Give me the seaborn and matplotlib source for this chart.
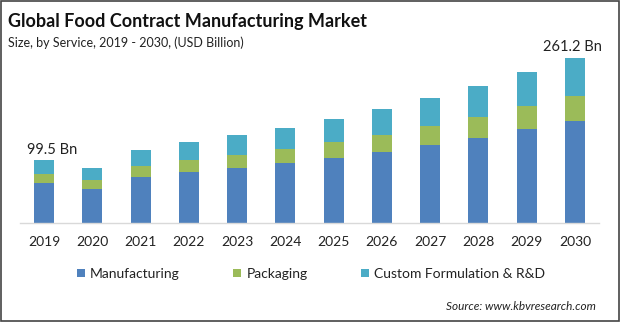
import matplotlib
matplotlib.use("Agg")
import matplotlib.pyplot as plt
import seaborn as sns
import numpy as np
import pandas as pd
from matplotlib.lines import Line2D
from matplotlib.patches import Rectangle

years = ["2019", "2020", "2021", "2022", "2023", "2024", "2025", "2026", "2027", "2028", "2029", "2030"]
manufacturing = [62.8, 53.2, 72.3, 80.4, 86.8, 94.8, 102.7, 112.3, 123.5, 134.6, 149.0, 161.6]
packaging = [14.4, 14.4, 17.6, 19.2, 21.3, 22.4, 25.6, 27.2, 30.3, 33.5, 36.7, 39.5]
custom = [22.3, 19.2, 25.6, 28.8, 32.0, 33.5, 36.7, 41.5, 44.7, 49.5, 54.3, 60.1]
series_names = ["Manufacturing", "Packaging", "Custom Formulation & R&D"]
colors = ["#4f81bd", "#9bbb59", "#4bacc6"]

sns.set_theme(style="white")
plt.rcParams['font.family'] = ['Lato', 'DejaVu Sans']

fig = plt.figure(figsize=(6.2, 3.22), dpi=100)
ax = fig.add_axes([20/620, 1 - 223/322, 579/620, 183/322])

m = np.array(manufacturing)
p = np.array(packaging)
c = np.array(custom)
layers = [m + p + c, m + p, m]
layer_colors = [colors[2], colors[1], colors[0]]
for vals, col in zip(layers, layer_colors):
    df = pd.DataFrame({"year": years, "value": vals})
    sns.barplot(data=df, x="year", y="value", color=col, width=0.41,
                saturation=1, ax=ax, linewidth=0)

ax.set_xlim(-0.5, 11.5)
ax.set_ylim(0, 183 * 1.585)
ax.set_xlabel("")
ax.set_ylabel("")
ax.set_yticks([])
for s in ["top", "right", "left"]:
    ax.spines[s].set_visible(False)
ax.spines["bottom"].set_color("#d9d9d9")
ax.spines["bottom"].set_linewidth(1)
ax.tick_params(axis="x", length=0, pad=9, labelsize=10, labelcolor="#222222")

totals = m + p + c
ax.text(-0.35, totals[0] + 5, "99.5 Bn", ha="left", va="bottom", fontsize=10.5, color="#222222")
ax.text(10.95, totals[-1] + 6, "261.2 Bn", ha="center", va="bottom", fontsize=10.5, color="#222222")

fig.text(8/620, 1 - 22/322, "Global Food Contract Manufacturing Market", fontsize=13,
         fontweight="bold", ha="left", va="center", color="#111111")
fig.text(8/620, 1 - 43/322, "Size, by Service, 2019 - 2030, (USD Billion)", fontsize=9,
         ha="left", va="center", color="#222222")

handles = [Line2D([0], [0], marker="s", linestyle="", markersize=5.5, markerfacecolor=col,
                  markeredgewidth=0) for col in colors]
fig.legend(handles, series_names, loc="center left", bbox_to_anchor=(76/620, 1 - 274/322),
           ncol=3, frameon=False, fontsize=10, handletextpad=0.3, columnspacing=3.8,
           handlelength=0.7, borderpad=0, borderaxespad=0, labelcolor="#222222")

fig.text(596/620, 1 - 306/322, "Source: www.kbvresearch.com", fontsize=8.5, style="italic",
         ha="right", va="center", color="#222222")

fig.patches.append(Rectangle((0.0015, 0.003), 0.997, 0.994, transform=fig.transFigure,
                             fill=False, edgecolor="#444444", linewidth=1.2))

fig.savefig("out.png", dpi=100)
